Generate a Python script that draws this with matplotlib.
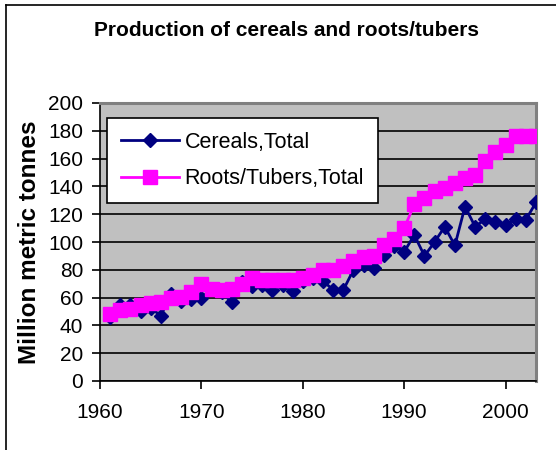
import matplotlib
matplotlib.use("Agg")
import matplotlib.pyplot as plt
from matplotlib.lines import Line2D

plt.rcParams['font.family'] = ['Liberation Sans', 'DejaVu Sans']

years = list(range(1961, 2004))
cereals = [46, 54.5, 55, 50.5, 52.5, 47, 62.5, 57.5, 59, 60,
           66, 64, 56.5, 71, 68, 69, 65.5, 69, 64.5, 72,
           74, 72, 65.5, 65.5, 80, 83.5, 81.5, 91, 97, 93,
           105, 90, 100, 111, 97.5, 125.5, 111, 116.5, 114.5, 112.5,
           116.5, 116, 128.5]
roots = [48.5, 51, 52, 54.5, 56, 57, 60, 60.5, 64, 70,
         66, 65.5, 66.5, 69.5, 74, 72.5, 72.5, 73, 73, 74,
         76, 80, 80, 82.5, 86, 89.5, 90, 98, 102, 110,
         127, 132, 136.5, 139, 142.5, 146, 148.5, 158, 164.5, 170,
         176, 176.5, 176]
xticks = [1960, 1970, 1980, 1990, 2000]
yticks = list(range(0, 201, 20))

title = "Production of cereals and roots/tubers"
ylabel = "Million metric tonnes"
labels = ["Cereals,Total", "Roots/Tubers,Total"]

W, H = 556, 450
fig = plt.figure(figsize=(W / 100, H / 100), dpi=100)
fig.patch.set_facecolor('white')

# outer chart border (left and top visible)
fig.add_artist(Line2D([6 / W, 6 / W], [0, 1 - 5 / H], color='black', lw=1.2, transform=fig.transFigure))
fig.add_artist(Line2D([6 / W, 1.0], [1 - 5 / H, 1 - 5 / H], color='black', lw=1.2, transform=fig.transFigure))

left, right, top, bottom = 100, 536, 103, 381
ax = fig.add_axes([left / W, 1 - bottom / H, (right - left) / W, (bottom - top) / H])
ax.set_facecolor('#C0C0C0')

ax.plot(years, cereals, color='#000080', lw=2, marker='D', markersize=7.5,
        markerfacecolor='#000080', markeredgecolor='#000080', label=labels[0], zorder=3)
ax.plot(years, roots, color='#FF00FF', lw=2, marker='s', markersize=10.5,
        markerfacecolor='#FF00FF', markeredgecolor='#FF00FF', label=labels[1], zorder=4)

ax.set_xlim(1960, 2003)
ax.set_ylim(0, 200)
ax.set_xticks(xticks)
ax.set_yticks(yticks)
ax.yaxis.grid(True, color='black', lw=1.2)
ax.set_axisbelow(True)

for s in ['top', 'right']:
    ax.spines[s].set_color('#808080')
    ax.spines[s].set_linewidth(2.2)
for s in ['left', 'bottom']:
    ax.spines[s].set_color('black')
    ax.spines[s].set_linewidth(1.2)

ax.tick_params(axis='both', direction='out', length=6, width=1.2, labelsize=15, colors='black')
ax.tick_params(axis='y', pad=6)
ax.tick_params(axis='x', pad=10)

ax.set_ylabel(ylabel, fontsize=17.5, fontweight='bold')
ax.yaxis.set_label_coords(-59 / (right - left), 0.5)

fig.text(287 / W, 1 - 31 / H, title, ha='center', va='center', fontsize=15, fontweight='bold')

leg = ax.legend(loc='upper left', bbox_to_anchor=((107 - left) / (right - left), 1 - (118 - top) / (bottom - top)),
                fontsize=15.5, frameon=True, fancybox=False, edgecolor='black', facecolor='white',
                framealpha=1, borderpad=0.65, handlelength=2.7, handletextpad=0.25,
                labelspacing=0.7, borderaxespad=0)
leg.get_frame().set_linewidth(1.2)

fig.savefig('out.png', dpi=100)
